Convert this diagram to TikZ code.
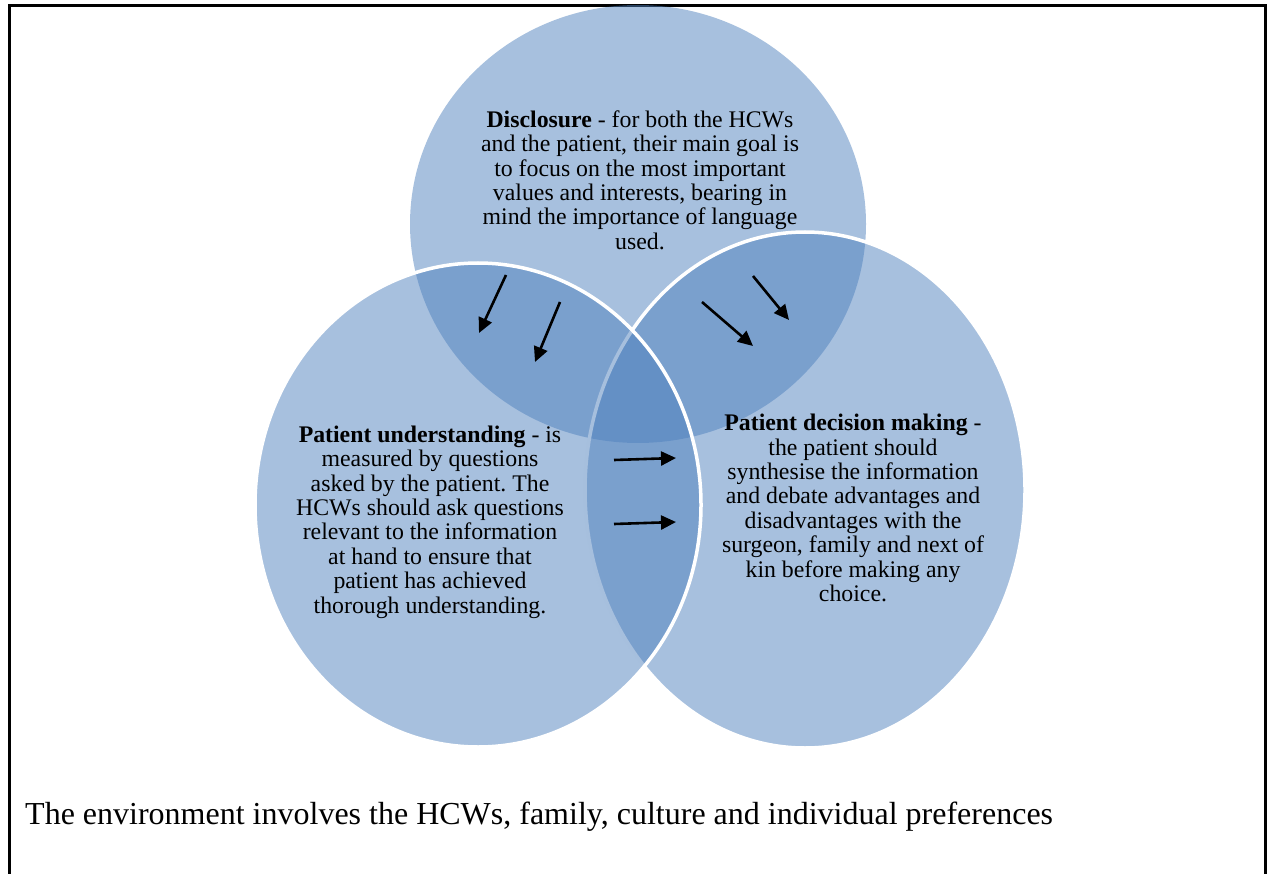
\documentclass[tikz,border=0pt]{standalone}
\usepackage{fontspec}
\setmainfont{Liberation Serif}
\usepackage{tikz}
\usetikzlibrary{shapes.geometric,arrows.meta}
\definecolor{setblue}{RGB}{79,129,189}
\frenchspacing
\tikzset{
  blob/.style = {ellipse, inner sep=0, fill=setblue, fill opacity=0.5},
  rim/.style = {draw=white, line width=3.5pt},
  desc/.style = {align=center, inner sep=0, font=\fontsize{23.8}{24.4}\selectfont},
  flow/.style = {line width=2.6pt, -{Triangle[length=15pt,width=14pt]}}
}

\begin{document}
\begin{tikzpicture}[x=1pt,y=-1pt]
  \useasboundingbox (0,0) rectangle (1273,874);
  \draw[line width=3pt] (9,874) -- (9,6) -- (1265,6) -- (1265,874);
  % the three sets
  \node[blob, minimum width=456, minimum height=438] (disc) at (638,224) {};
  \node[blob, rim, minimum width=440, minimum height=516] (dec) at (805,490) {};
  \node[blob, rim, minimum width=446, minimum height=484] (und) at (478,505) {};
  % texts
  \node[desc] (disctext) at (640,180) {\textbf{Disclosure} - for both the HCWs\\
    and the patient, their main goal is\\ to focus on the most important\\
    values and interests, bearing in\\ mind the importance of language\\ used.};
  \node[desc] (undtext) at (430,522) {\textbf{Patient understanding} - is\\
    measured by questions\\ asked by the patient. The\\ HCWs should ask questions\\
    relevant to the information\\ at hand to ensure that\\ patient has achieved\\
    thorough understanding.};
  \node[desc] (dectext) at (853,508) {\textbf{Patient decision making} -\\
    the patient should\\ synthesise the information\\ and debate advantages and\\
    disadvantages with the\\ surgeon, family and next of\\ kin before making any\\ choice.};
  \node[anchor=base west, inner sep=0, font=\fontsize{32}{36}\selectfont] (env) at (25,824)
    {The environment involves the HCWs, family, culture and individual preferences};
  % arrows
  \foreach \name/\sx/\sy/\ex/\ey in {p/506/275/479/333, q/560/302/535/362,
      r/753/276/789/320, s/702/302/753/346, t/614/460/676/458, u/614/524/676/522} {
    \coordinate (\name0) at (\sx,\sy);
    \coordinate (\name1) at (\ex,\ey);
    \draw[flow] (\name0) -- (\name1);
  }
\end{tikzpicture}
\end{document}
